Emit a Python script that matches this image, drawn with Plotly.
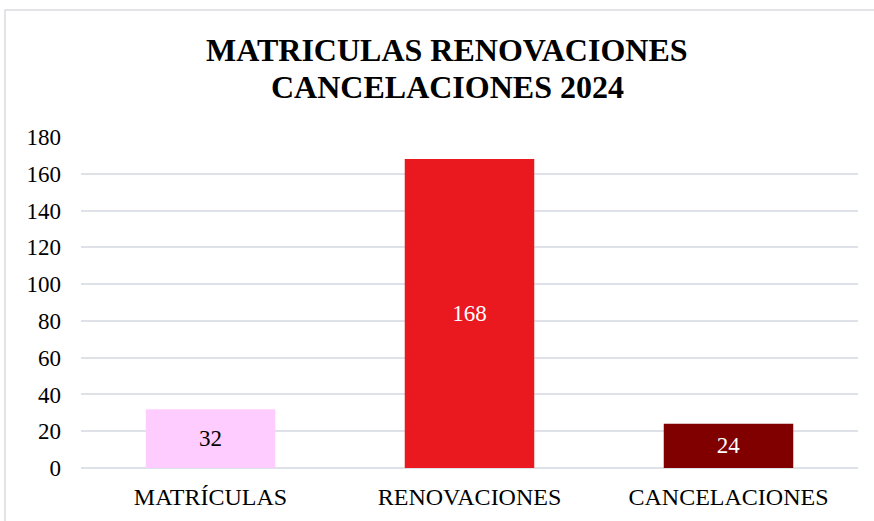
import plotly.graph_objects as go

categories = ["MATRÍCULAS", "RENOVACIONES", "CANCELACIONES"]
values = [32, 168, 24]
bar_colors = ["#FFCCFF", "#E9191F", "#800000"]
label_colors = ["#000000", "#FFFFFF", "#FFFFFF"]
y_ticks = [0, 20, 40, 60, 80, 100, 120, 140, 160, 180]
title_lines = ["MATRICULAS RENOVACIONES", "CANCELACIONES 2024"]

W, H = 874, 521
L, R, T, B = 81, 16, 137, 53
pw, ph = W - L - R, H - T - B

fig = go.Figure(go.Bar(
    x=categories, y=values,
    marker=dict(color=bar_colors, line=dict(width=0)),
    width=0.5,
    text=[str(v) for v in values],
    textposition="inside", insidetextanchor="middle",
    textfont=dict(family="Liberation Serif", size=23, color=label_colors),
    textangle=0,
    hoverinfo="skip",
))

# chart border (top and left edges visible, others run off the canvas)
fig.add_shape(type="rect", xref="paper", yref="paper",
              x0=(5 - L) / pw, x1=2.0,
              y0=-1.0, y1=(H - B - 10) / ph,
              line=dict(color="#D9DCE1", width=1.5), fillcolor="rgba(0,0,0,0)", layer="below")

# title as two lines
for line, yc in zip(title_lines, [50, 87]):
    fig.add_annotation(text="<b>%s</b>" % line, xref="paper", yref="paper",
                       x=(447 - L) / pw, y=(H - B - yc) / ph,
                       xanchor="center", yanchor="middle", showarrow=False,
                       font=dict(family="Liberation Serif", size=32, color="#000000"))

fig.update_layout(
    width=W, height=H,
    margin=dict(l=L, r=R, t=T, b=B),
    paper_bgcolor="white", plot_bgcolor="white",
    showlegend=False,
    bargap=0.5,
)
fig.update_xaxes(showgrid=False, showline=False, zeroline=False,
                 tickfont=dict(family="Liberation Serif", size=24, color="#000000"),
                 ticks="", ticklabelstandoff=12)
fig.update_yaxes(range=[0, 180], tickvals=y_ticks, showgrid=True,
                 gridcolor="#DEE2E8", gridwidth=2, zeroline=True, zerolinecolor="#DEE2E8",
                 zerolinewidth=2, showline=False, ticks="",
                 tickfont=dict(family="Liberation Serif", size=23, color="#000000"),
                 ticklabelstandoff=19)

fig.write_html("out.html", config={"displayModeBar": False},
               post_script="document.body.style.margin='0';document.body.style.overflow='hidden';")
